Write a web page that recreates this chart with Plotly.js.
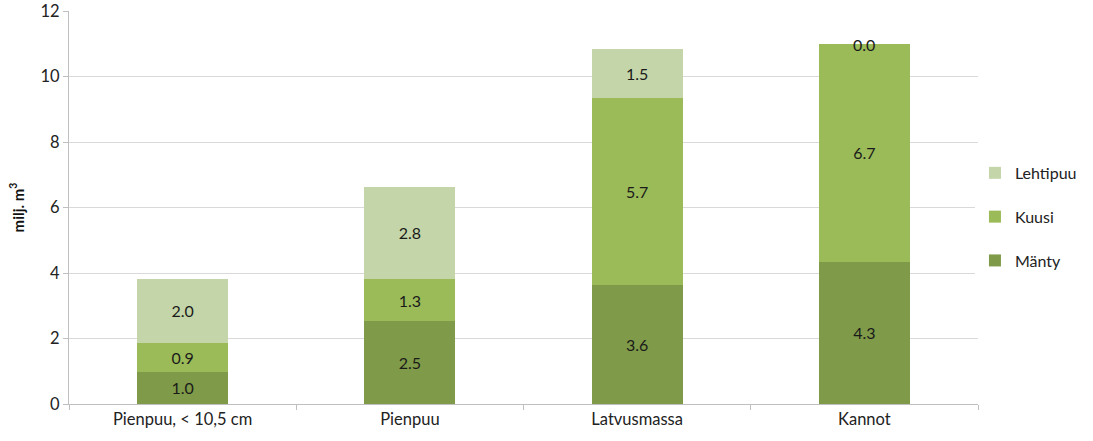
<!DOCTYPE html>
<html>
<head>
<meta charset="utf-8">
<script src="https://cdn.plot.ly/plotly-3.0.1.min.js"></script>
<style>html,body{margin:0;padding:0;background:#fff;}#chart{width:1093px;height:441px;}</style>
</head>
<body>
<div id="chart"></div>
<script>
const categories = ["Pienpuu, < 10,5 cm", "Pienpuu", "Latvusmassa", "Kannot"];
const manty = [0.98, 2.53, 3.63, 4.34];
const kuusi = [0.88, 1.29, 5.71, 6.65];
const lehtipuu = [1.96, 2.81, 1.50, 0.0];
const yTicks = [0, 2, 4, 6, 8, 10, 12];

const fontFam = "Lato, 'Open Sans', sans-serif";
function mk(name, vals, color, rank) {
  return {
    type: "bar", name: name, x: categories, y: vals,
    marker: {color: color, line: {width: 0}},
    texttemplate: "%{y:.1f}", textposition: "inside", insidetextanchor: "middle",
    constraintext: "none",
    textfont: {family: fontFam, size: 16, color: "#1a1a1a"},
    legendgroup: name, legendrank: rank, hoverinfo: "skip", cliponaxis: false
  };
}
const data = [
  mk("Mänty", manty, "#7f9a48", 3),
  mk("Kuusi", kuusi, "#9bbb59", 2),
  mk("Lehtipuu", lehtipuu, "#c4d6a9", 1)
];
// labels for zero-height segments (drawn at the top of the stack)
const annotations = [];
categories.forEach((c, i) => {
  if (lehtipuu[i] === 0) {
    annotations.push({
      x: c, y: manty[i] + kuusi[i] + lehtipuu[i], xref: "x", yref: "y",
      text: lehtipuu[i].toFixed(1), showarrow: false, yanchor: "middle",
      font: {family: fontFam, size: 16, color: "#1a1a1a"}
    });
  }
});
const layout = {
  width: 1093, height: 441,
  margin: {l: 69, r: 115, t: 11, b: 37, autoexpand: false},
  barmode: "stack", bargap: 0.6,
  paper_bgcolor: "#fff", plot_bgcolor: "#fff",
  font: {family: fontFam, size: 16, color: "#333"},
  annotations: annotations,
  xaxis: {
    showline: true, linecolor: "#bfbfbf", linewidth: 1,
    tickson: "boundaries", ticks: "outside", ticklen: 5, tickcolor: "#bfbfbf",
    tickfont: {family: fontFam, size: 16.5, color: "#222"},
    showgrid: false, fixedrange: true, automargin: false
  },
  yaxis: {
    range: [0, 12], tickvals: yTicks, showgrid: true, gridcolor: "#d9d9d9", gridwidth: 1,
    showline: true, linecolor: "#bfbfbf", ticks: "outside", ticklen: 5, tickcolor: "#bfbfbf",
    tickfont: {family: fontFam, size: 16.5, color: "#222"},
    zeroline: false, automargin: false,
    title: {text: "milj. m<sup>3</sup>", font: {family: fontFam, size: 15, color: "#111", weight: "bold"}, standoff: 12}
  },
  legend: {
    xref: "container", x: 0.892, xanchor: "left", y: 0.476, yanchor: "middle",
    traceorder: "grouped", tracegroupgap: 20,
    font: {family: fontFam, size: 16, color: "#222"},
    itemwidth: 30
  },
  showlegend: true
};
Plotly.newPlot("chart", data, layout, {staticPlot: true});
</script>
</body>
</html>
